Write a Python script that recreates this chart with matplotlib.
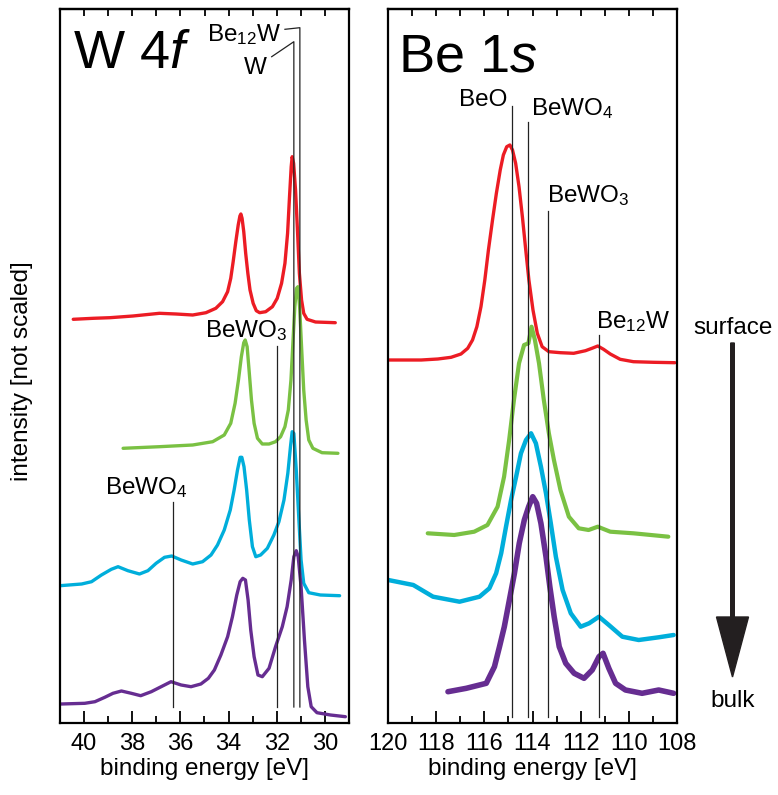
import numpy as np
import matplotlib
matplotlib.use("Agg")
import matplotlib.pyplot as plt
from matplotlib.patches import FancyArrow

plt.rcParams['font.family'] = ['Liberation Sans', 'DejaVu Sans']
plt.rcParams['mathtext.fontset'] = 'custom'
plt.rcParams['mathtext.rm'] = 'Liberation Sans'
plt.rcParams['mathtext.it'] = 'Liberation Sans:italic'
plt.rcParams['mathtext.bf'] = 'Liberation Sans:bold'

# ---------------- data (binding energy [eV], intensity [arb., offset]) ----------------
# W 4f
w_red_E = [40.45, 39.62, 38.93, 37.97, 36.87, 36.18, 35.49, 34.94, 34.53, 34.25, 34.04, 33.91, 33.81, 33.70,
           33.60, 33.53, 33.49, 33.44, 33.37, 33.29, 33.20, 33.11, 32.98, 32.85, 32.71, 32.46, 32.18, 31.98,
           31.80, 31.66, 31.55, 31.47, 31.40, 31.36, 31.30, 31.22, 31.14, 31.06, 30.97, 30.88, 30.74, 30.39, 29.57]
w_red_I = [403.7, 404.7, 405.3, 407, 409.7, 409, 408, 410.3, 414.7, 421.3, 431.3, 444.7, 461.3, 481.3,
           498, 507, 509, 504.7, 491.3, 469.7, 449.7, 433, 419.7, 412.3, 410.3, 411.3, 416.3, 424.7,
           439.7, 459.7, 489.7, 526.3, 556.3, 566.3, 559.7, 533, 493, 449.7, 423, 409.7, 403.7, 401, 400.3]

w_green_E = [38.38, 36.87, 35.49, 34.66, 34.18, 33.91, 33.73, 33.59, 33.47, 33.37, 33.31, 33.23, 33.15, 33.05,
             32.94, 32.80, 32.60, 32.32, 32.05, 31.84, 31.66, 31.52, 31.41, 31.33, 31.25, 31.18, 31.12, 31.05,
             30.97, 30.88, 30.78, 30.67, 30.50, 30.12, 29.46]
w_green_I = [274.7, 276.3, 278, 281.3, 288, 299.7, 319.7, 343, 366.3, 380.3, 383, 376.3, 353, 323,
             299.7, 284.7, 279, 279, 281.3, 286.3, 296.3, 313, 343, 379.7, 416.3, 434.7, 436.3, 416.3,
             376.3, 333, 303, 283, 274.7, 270.3, 269.7]

w_cyan_E = [41.0, 40.10, 39.69, 39.28, 38.87, 38.59, 38.18, 37.70, 37.35, 37.01, 36.66, 36.36, 35.97, 35.49,
            35.08, 34.73, 34.46, 34.18, 33.93, 33.77, 33.63, 33.52, 33.45, 33.36, 33.25, 33.14, 33.01, 32.87,
            32.67, 32.39, 32.12, 31.91, 31.70, 31.54, 31.43, 31.36, 31.29, 31.19, 31.08, 30.99, 30.88, 30.67,
            30.19, 29.39]
w_cyan_I = [137.3, 139, 141.3, 148, 153.7, 156.3, 152.3, 149, 152.3, 159.7, 165.7, 167, 163, 159,
            161.3, 168, 178, 193, 213, 233, 253, 265.7, 265.7, 256.3, 233, 203, 176.3, 166.3,
            168, 174.7, 188, 201.3, 223, 249.7, 276.3, 291.3, 289.7, 253, 203, 163, 139.7, 130.3,
            128, 127.3]

w_purple_E = [40.96, 39.97, 39.55, 39.14, 38.80, 38.45, 38.04, 37.65, 37.21, 36.80, 36.39, 35.97, 35.56, 35.15,
              34.84, 34.59, 34.32, 34.04, 33.84, 33.66, 33.52, 33.41, 33.30, 33.19, 33.08, 32.94, 32.78, 32.60,
              32.32, 32.05, 31.77, 31.57, 31.40, 31.29, 31.19, 31.11, 30.99, 30.85, 30.71, 30.57, 30.33, 29.77,
              29.15]
w_purple_I = [19, 19.7, 21.3, 25.7, 29.7, 32, 29.7, 27.3, 31.3, 36.3, 41.3, 38, 36.3, 39,
              44.7, 53, 68, 86.3, 106.3, 128, 141.3, 144.7, 143, 123, 93, 66.3, 48, 46.3,
              54.7, 76.3, 96.3, 116.3, 143, 166.3, 172.3, 166.3, 136.3, 83, 36.3, 16.3, 10.3, 8,
              6.3]

# Be 1s
be_red_E = [120.0, 118.62, 117.93, 117.38, 116.97, 116.69, 116.49, 116.31, 116.14, 115.98, 115.83, 115.66,
            115.50, 115.34, 115.21, 115.07, 114.94, 114.83, 114.70, 114.56, 114.42, 114.28, 114.15, 113.98,
            113.80, 113.60, 113.32, 112.84, 112.29, 111.80, 111.53, 111.29, 111.05, 110.77, 110.36, 109.81,
            108.98, 108.09]
be_red_I = [363, 363, 364, 365.7, 369, 374.7, 383, 396.3, 416.3, 443, 473, 503,
            529.7, 553, 568, 576.3, 578, 573, 559.7, 536.3, 506.3, 473, 443, 413,
            389.7, 376.3, 371.3, 370.3, 369.7, 372.3, 374.7, 377, 373.7, 369, 363.7, 361.3,
            360.7, 360.3]

be_green_E = [118.35, 117.25, 116.42, 115.87, 115.45, 115.18, 114.97, 114.77, 114.56, 114.35, 114.17, 114.04,
              113.90, 113.73, 113.53, 113.32, 113.11, 112.84, 112.49, 112.08, 111.67, 111.29, 110.77, 109.81,
              108.36]
be_green_I = [189.7, 188, 191.3, 198, 216.3, 246.3, 283, 323, 359.7, 378, 379.7, 396.3,
              383, 359.7, 323, 289.7, 263, 233, 206.3, 194.7, 193, 196.3, 191.3, 189.7,
              186.3]

be_cyan_E = [119.99, 118.95, 118.13, 117.03, 116.20, 115.79, 115.51, 115.30, 115.10, 114.89, 114.68, 114.48,
             114.27, 114.06, 113.86, 113.65, 113.44, 113.24, 113.03, 112.75, 112.41, 112.00, 111.65, 111.24,
             110.83, 110.27, 109.59, 108.76, 108.14]
be_cyan_I = [143, 138, 126.3, 121.3, 126.3, 134.7, 149.7, 169.7, 196.3, 223, 246.3, 269.7,
             283, 289.7, 279.7, 256.3, 229.7, 199.7, 166.3, 133, 109.7, 96.3, 99.7, 106.3,
             98, 86.3, 83, 85.7, 88]

be_purple_E = [117.51, 116.75, 115.92, 115.58, 115.37, 115.17, 114.96, 114.75, 114.55, 114.34, 114.16, 113.99,
               113.83, 113.65, 113.44, 113.28, 113.10, 112.89, 112.62, 112.27, 111.86, 111.52, 111.24, 111.07,
               110.83, 110.55, 110.14, 109.45, 108.76, 108.14]
be_purple_I = [31.3, 34.7, 39.7, 56.3, 76.3, 96.3, 123, 149.7, 179.7, 203, 216.3, 226.3,
               219.7, 199.7, 166.3, 136.3, 106.3, 76.3, 59.7, 49.7, 44.7, 53, 66.3, 69.7,
               54.7, 39.7, 33, 29.7, 33, 29.7]

# reference energies of chemical states
w_ref_names = ['Be$_{12}$W', 'W', 'BeWO$_3$', 'BeWO$_4$']
w_ref_E = [31.04, 31.29, 31.98, 36.32]
be_ref_names = ['BeO', 'BeWO$_4$', 'BeWO$_3$', 'Be$_{12}$W']
be_ref_E = [114.85, 114.19, 113.35, 111.24]

w_ticks = [40, 38, 36, 34, 32, 30]
be_ticks = [120, 118, 116, 114, 112, 110, 108]

colors = ['#EC1C24', '#7AC143', '#00AEDB', '#662D91']

# ---------------- figure ----------------
fig = plt.figure(figsize=(7.78, 7.95), dpi=100)
W, H = 778, 795
axL = fig.add_axes([60 / W, 72 / H, 289 / W, 714 / H])
axR = fig.add_axes([388 / W, 72 / H, 289 / W, 714 / H])

for ax in (axL, axR):
    ax.set_ylim(0, 714)
    ax.set_yticks([])
    for s in ax.spines.values():
        s.set_linewidth(1.6)
    ax.tick_params(axis='x', which='major', direction='in', length=9, width=1.3,
                   labelsize=17, pad=7)
    ax.tick_params(axis='x', which='minor', direction='in', length=5, width=1.3)
    ax.set_xlabel('binding energy [eV]', fontsize=17.5, labelpad=2)

ann_fs = 17.5

# W 4f panel
axL.set_xlim(41, 29)
axL.set_xticks(w_ticks)
axL.set_xticks([39, 37, 35, 33, 31], minor=True)
secL = axL.secondary_xaxis('top')
secL.set_xticks(list(range(30, 41)))
secL.tick_params(direction='in', length=5, width=1.3, labeltop=False)
secL.spines['top'].set_linewidth(1.6)

for (E, I), c in zip([(w_red_E, w_red_I), (w_green_E, w_green_I),
                      (w_cyan_E, w_cyan_I), (w_purple_E, w_purple_I)], colors):
    axL.plot(E, I, color=c, lw=2.4, solid_joinstyle='round', solid_capstyle='round', zorder=2)

lc = '#222222'
llw = 0.9
# Be12W
axL.plot([31.66, w_ref_E[0], w_ref_E[0]], [693.7, 695.3, 16], color=lc, lw=llw, zorder=3)
axL.text(31.80, 682, w_ref_names[0], fontsize=ann_fs, ha='right', va='baseline')
# W
axL.plot([32.21, w_ref_E[1], w_ref_E[1]], [666.3, 681.3, 16], color=lc, lw=llw, zorder=3)
axL.text(32.40, 649, w_ref_names[1], fontsize=ann_fs, ha='right', va='baseline')
# BeWO3
axL.plot([w_ref_E[2], w_ref_E[2]], [16, 377], color=lc, lw=llw, zorder=3)
axL.text(31.55, 386, w_ref_names[2], fontsize=ann_fs, ha='right', va='baseline')
# BeWO4
axL.plot([w_ref_E[3], w_ref_E[3]], [16, 221], color=lc, lw=llw, zorder=3)
axL.text(35.68, 229, w_ref_names[3], fontsize=ann_fs, ha='right', va='baseline')

axL.text(0.045, 0.917, 'W 4$f$', fontsize=39, transform=axL.transAxes, ha='left', va='baseline')

# Be 1s panel
axR.set_xlim(120, 108)
axR.set_xticks(be_ticks)
axR.set_xticks([119, 117, 115, 113, 111, 109], minor=True)
secR = axR.secondary_xaxis('top')
secR.set_xticks(list(range(109, 120)))
secR.tick_params(direction='in', length=5, width=1.3, labeltop=False)
secR.spines['top'].set_linewidth(1.6)

for (E, I), c, w in zip([(be_red_E, be_red_I), (be_green_E, be_green_I),
                         (be_cyan_E, be_cyan_I), (be_purple_E, be_purple_I)], colors,
                        [2.4, 3.0, 3.2, 4.0]):
    axR.plot(E, I, color=c, lw=w, solid_joinstyle='round', solid_capstyle='round', zorder=2)

be_tops = [617, 601, 512, 388]
for e, t in zip(be_ref_E, be_tops):
    axR.plot([e, e], [6, t], color=lc, lw=llw, zorder=3)
axR.text(115.04, 617, be_ref_names[0], fontsize=ann_fs, ha='right', va='baseline')
axR.text(114.06, 608, be_ref_names[1], fontsize=ann_fs, ha='left', va='baseline')
axR.text(113.39, 521, be_ref_names[2], fontsize=ann_fs, ha='left', va='baseline')
axR.text(111.38, 395, be_ref_names[3], fontsize=ann_fs, ha='left', va='baseline')

axR.text(0.035, 0.912, 'Be 1$s$', fontsize=39, transform=axR.transAxes, ha='left', va='baseline')

# y label
fig.text(22 / W, 1 - 371 / H, 'intensity [not scaled]', rotation=90, fontsize=17.5,
         ha='center', va='center')

# surface -> bulk arrow
arrow = FancyArrow(7.325, (H - 343) / 100, 0, -(677 - 343) / 100, width=0.036,
                   head_width=0.32, head_length=0.60, length_includes_head=True,
                   transform=fig.dpi_scale_trans, color='#231F20')
fig.add_artist(arrow)
fig.text(733 / W, 1 - 334 / H, 'surface', fontsize=17.5, ha='center', va='baseline')
fig.text(733 / W, 1 - 707 / H, 'bulk', fontsize=17.5, ha='center', va='baseline')

fig.savefig('out.png', dpi=100)
